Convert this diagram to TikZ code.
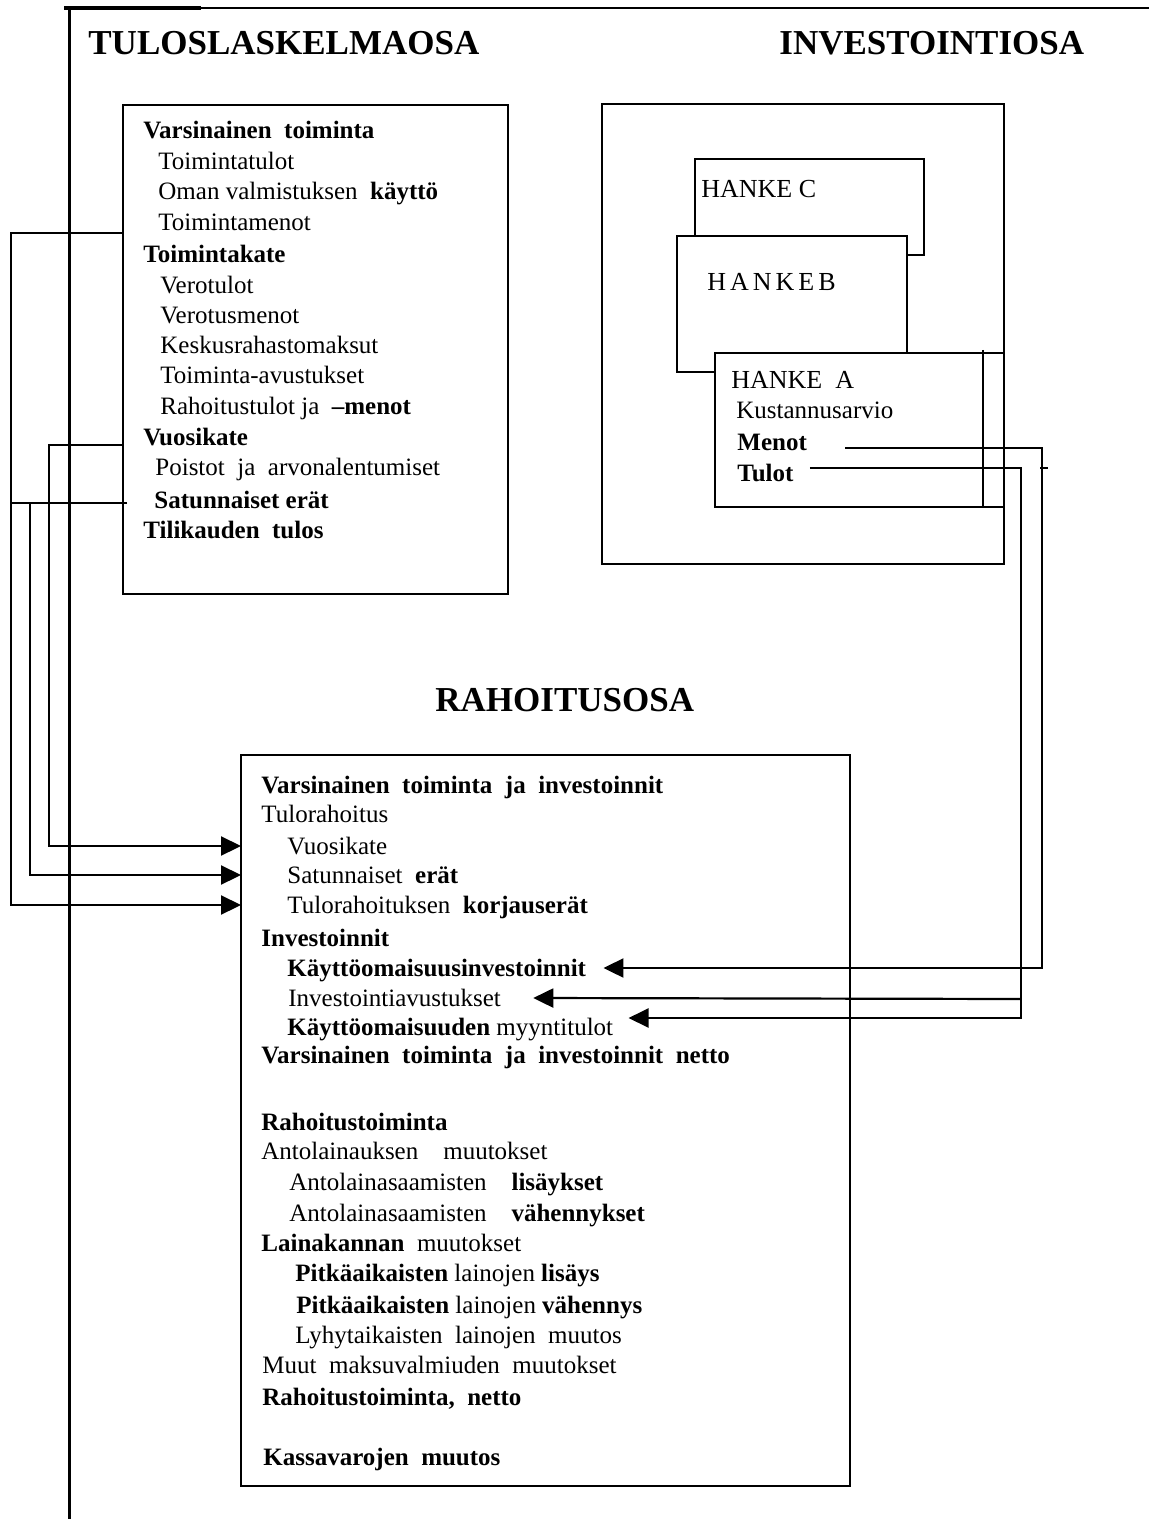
\documentclass[tikz,border=0pt]{standalone}
\usepackage{fontspec}
\setmainfont{Liberation Serif}
\usetikzlibrary{arrows.meta}

\begin{document}
\begin{tikzpicture}[x=0.5pt,y=-0.5pt,
	frameline/.style={line width=1.5pt},
	box/.style={line width=1.4pt},
	hanke/.style={line width=1pt},
	link/.style={line width=1.1pt},
	arr/.style={link,-{Triangle[length=10pt,width=9.5pt]}},
	parttitle/.style={anchor=west,inner sep=0pt,font=\fontsize{17.5}{20}\selectfont\bfseries},
	item/.style={anchor=west,inner sep=0pt,text height=8pt,text depth=0pt,font=\fontsize{12.5}{14}\selectfont},
	head/.style={item,font=\fontsize{12.5}{14}\selectfont\bfseries},
	hlabel/.style={item,font=\fontsize{13}{15}\selectfont}]
	\useasboundingbox (0,0) rectangle (1149,1519);

	% frame
	\draw[line width=1.2pt] (64,8) -- (1149,8);
	\draw[line width=1.9pt] (64,8) -- (201,8);
	\draw[frameline] (69,8) -- (69,1519);

	% titles
	\node[parttitle] (tulos) at (88,43) {TULOSLASKELMAOSA};
	\node[parttitle] (invest) at (779,43) {INVESTOINTIOSA};
	\node[parttitle] (rahoitus) at (435,700) {RAHOITUSOSA};

	% Boxes
	\draw[box] (123,105) rectangle (508,594);
	\draw[box] (602,104) rectangle (1004,564);
	\draw[box] (241,755) rectangle (850,1486);
	\coordinate (tbl) at (123,105);
	\coordinate (rbl) at (241,755);

	% hankkeet
	\draw[hanke] (695,236) -- (695,159) -- (924,159) -- (924,255) -- (907,255);
	\draw[hanke] (715,372) -- (677,372) -- (677,236) -- (907,236) -- (907,353);
	\draw[hanke] (715,353) rectangle (1004,507);
	\draw[hanke] (983,350) -- (983,507);
	\node[hlabel] (hc) at (701,190) {HANKE C};
	\node[hlabel] (hb) at (707,283) {H\hspace{2pt}A\hspace{2pt}N\hspace{2pt}K\hspace{2pt}E\hspace{2pt}B};
	\node[hlabel] (ha) at (731,380) {HANKE\ \ A};
	\node[item] (kust) at (736,410) {Kustannusarvio};
	\node[head] (menot) at (737,442) {Menot};
	\node[head] (tulot) at (737,473) {Tulot};

	% tuloslaskelma
	\node[head] (t1) at (143,131) {Varsinainen\enspace toiminta};
	\node[item] (t2) at (158,162) {Toimintatulot};
	\node[item] (t3) at (158,192) {Oman valmistuksen\enspace\textbf{käyttö}};
	\node[item] (t4) at (158,223) {Toimintamenot};
	\node[head] (t5) at (143,255) {Toimintakate};
	\node[item] (t6) at (160,286) {Verotulot};
	\node[item] (t7) at (160,316) {Verotusmenot};
	\node[item] (t8) at (160,346) {Keskusrahastomaksut};
	\node[item] (t9) at (160,376) {Toiminta-avustukset};
	\node[item] (t10) at (160,407) {Rahoitustulot ja\enspace\textbf{–menot}};
	\node[head] (t11) at (143,437) {Vuosikate};
	\node[item] (t12) at (155,467) {Poistot\enspace ja\enspace arvonalentumiset};
	\node[head] (t13) at (154,500) {Satunnaiset erät};
	\node[head] (t14) at (143,530) {Tilikauden\enspace tulos};

	% rahoituslaskelma
	\node[head] (r1) at (261,785) {Varsinainen\enspace toiminta\enspace ja\enspace investoinnit};
	\node[item] (r2) at (261,814) {Tulorahoitus};
	\node[item] (r3) at (287,846) {Vuosikate};
	\node[item] (r4) at (287,875) {Satunnaiset\enspace\textbf{erät}};
	\node[item] (r5) at (287,905) {Tulorahoituksen\enspace\textbf{korjauserät}};
	\node[head] (r6) at (261,938) {Investoinnit};
	\node[head] (r7) at (287,968) {Käyttöomaisuusinvestoinnit};
	\node[item] (r8) at (288,998) {Investointiavustukset};
	\node[item] (r9) at (287,1027) {\textbf{Käyttöomaisuuden} myyntitulot};
	\node[head] (r10) at (261,1055) {Varsinainen\enspace toiminta\enspace ja\enspace investoinnit\enspace netto};
	\node[head] (r11) at (261,1122) {Rahoitustoiminta};
	\node[item] (r12) at (261,1151) {Antolainauksen\quad muutokset};
	\node[item] (r13) at (289,1182) {Antolainasaamisten\quad\textbf{lisäykset}};
	\node[item] (r14) at (289,1213) {Antolainasaamisten\quad\textbf{vähennykset}};
	\node[item] (r15) at (261,1243) {\textbf{Lainakannan}\enspace muutokset};
	\node[item] (r16) at (295,1273) {\textbf{Pitkäaikaisten} lainojen \textbf{lisäys}};
	\node[item] (r17) at (296,1305) {\textbf{Pitkäaikaisten} lainojen \textbf{vähennys}};
	\node[item] (r18) at (295,1335) {Lyhytaikaisten\enspace lainojen\enspace muutos};
	\node[item] (r19) at (262,1365) {Muut\enspace maksuvalmiuden\enspace muutokset};
	\node[head] (r20) at (262,1397) {Rahoitustoiminta,\enspace netto};
	\node[head] (r21) at (263,1457) {Kassavarojen\enspace muutos};

	% links from tuloslaskelma
	\coordinate (out1) at (123,233);
	\coordinate (out2) at (123,445);
	\coordinate (out3) at (127,503);
	\draw[arr] (out1) -- (11,233) |- (rbl |- r5.west);
	\draw[arr] (out2) -- (49,445) |- (rbl |- r3.west);
	\draw[link] (out3) -- (11,503);
	\draw[arr] (30,503) |- (rbl |- r4.west);

	% links from hanke A
	\draw[arr] ([xshift=19pt,yshift=-3pt]menot.east) -- (1042,448) |- ([xshift=8.5pt]r7.east);
	\draw[arr] ([xshift=8pt,yshift=2.5pt]tulot.east) -- (1021,468) |- ([xshift=7.5pt,yshift=4.5pt]r9.east);
	\draw[arr] (1021,999) -- ([xshift=16pt]r8.east);
	\draw[link] (1040,468) -- (1048,468);
\end{tikzpicture}
\end{document}
